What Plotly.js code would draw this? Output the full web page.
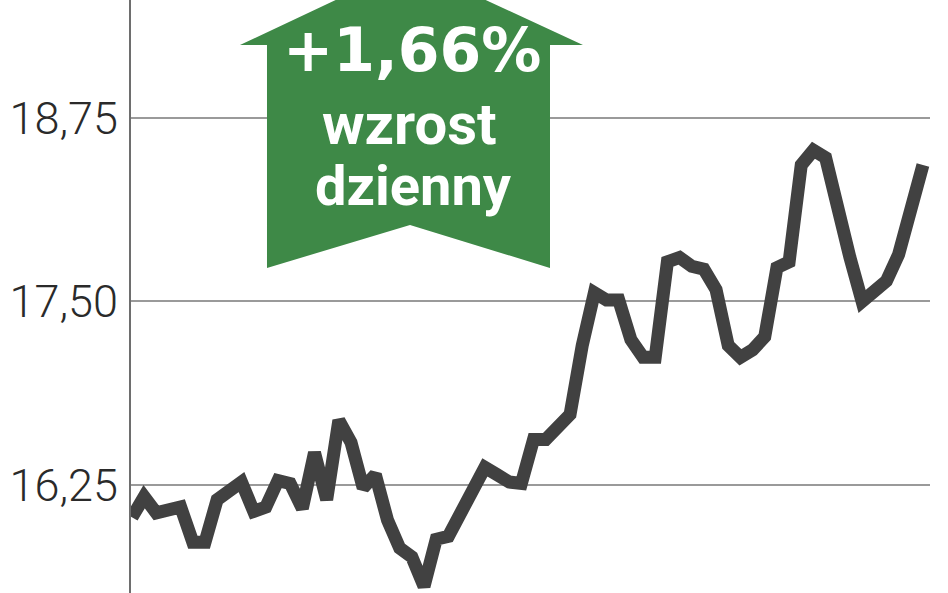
<!DOCTYPE html>
<html>
<head>
<meta charset="utf-8">
<script src="https://cdn.plot.ly/plotly-3.0.1.min.js"></script>
<style>
  html, body { margin: 0; padding: 0; background: #fff; }
  #chart { width: 948px; height: 593px; }
</style>
</head>
<body>
<div id="chart"></div>
<script>
// daily closes (session index -> price)
const sessions = [];
for (let i = 0; i < 66; i++) sessions.push(i);
const closes = [
  16.03, 16.17, 16.06, 16.09, 16.10, 15.86, 15.86, 16.15, 16.20, 16.27,
  16.07, 16.10, 16.28, 16.26, 16.09, 16.47, 16.15, 16.69, 16.54, 16.23,
  16.32, 16.01, 15.82, 15.76, 15.56, 15.88, 15.90, 16.07, 16.25, 16.37,
  16.32, 16.27, 16.26, 16.56, 16.56, 16.64, 16.73, 17.20, 17.56, 17.51,
  17.51, 17.24, 17.12, 17.12, 17.77, 17.80, 17.74, 17.72, 17.58, 17.20,
  17.12, 17.17, 17.26, 17.73, 17.77, 18.43, 18.53, 18.48, 18.11, 17.80,
  17.50, 17.58, 17.64, 17.82, 18.11, 18.43
];
const tickValues = [16.25, 17.5, 18.75];
const tickLabels = ['16,25', '17,50', '18,75'];
const badgeLines = ['+1,66%', 'wzrost', 'dzienny'];

// plot area in page pixels
const W = 948, H = 593, L = 131, R = 18;
const px = x => (x - L) / (W - L - R);
const py = y => 1 - y / H;

// arrow outline, page pixels
const arrow = [[410, -35], [583, 45], [550, 45], [550, 268], [410, 225],
               [267, 268], [267, 45], [240, 45]];
const arrowPath = 'M' + arrow.map(p => px(p[0]).toFixed(4) + ',' + py(p[1]).toFixed(4)).join(' L') + ' Z';

const green = '#3e8947';

const trace = {
  x: sessions,
  y: closes,
  type: 'scatter',
  mode: 'lines',
  line: {color: '#414141', width: 13},
  hoverinfo: 'skip'
};

const layout = {
  width: W,
  height: H,
  margin: {l: L, r: R, t: 0, b: 0},
  paper_bgcolor: '#fff',
  plot_bgcolor: '#fff',
  showlegend: false,
  xaxis: {
    range: [-0.08, 65.58],
    showgrid: false, zeroline: false, showticklabels: false, ticks: '',
    fixedrange: true
  },
  yaxis: {
    range: [15.514, 19.554],
    tickvals: tickValues,
    ticktext: tickLabels,
    tickfont: {family: 'Roboto', size: 45, color: '#2a2a2a', weight: 300},
    ticks: '',
    ticklabelstandoff: 2,
    showgrid: true, gridcolor: '#9a9a9a', gridwidth: 2,
    zeroline: false,
    showline: true, linecolor: '#6e6e6e', linewidth: 2,
    fixedrange: true
  },
  shapes: [{
    type: 'path', xref: 'paper', yref: 'paper', path: arrowPath,
    fillcolor: green, line: {width: 0}, layer: 'above'
  }],
  annotations: [
    {text: badgeLines[0], x: px(412), y: py(50), size: 60, family: 'DejaVu Sans'},
    {text: badgeLines[1], x: px(409), y: py(124), size: 58, family: 'Roboto'},
    {text: badgeLines[2], x: px(413), y: py(186), size: 56, family: 'Roboto'}
  ].map(a => ({
    text: '<b>' + a.text + '</b>', xref: 'paper', yref: 'paper', x: a.x, y: a.y,
    xanchor: 'center', yanchor: 'middle', showarrow: false,
    font: {family: a.family, size: a.size, color: '#fff'}
  }))
};

Plotly.newPlot('chart', [trace], layout, {displayModeBar: false, staticPlot: true});
</script>
</body>
</html>
